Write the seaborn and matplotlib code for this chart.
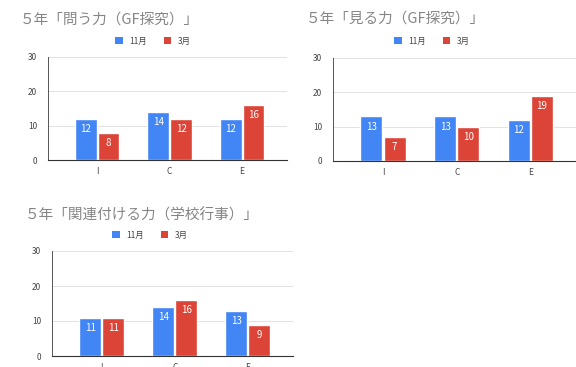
import matplotlib
matplotlib.use("Agg")
import matplotlib.pyplot as plt
import seaborn as sns
import pandas as pd
from matplotlib.patches import Patch

sns.set_theme(style="white")
plt.rcParams['font.family'] = ['Noto Sans CJK JP', 'DejaVu Sans']

categories = ["I", "C", "E"]
months = ["11月", "3月"]
colors = ["#4285F4", "#DB4437"]

titles = [
    "５年「問う力（GF探究）」",
    "５年「見る力（GF探究）」",
    "５年「関連付ける力（学校行事）」",
]
nov_values = [
    [12, 14, 12],
    [13, 13, 12],
    [11, 14, 13],
]
mar_values = [
    [8, 12, 16],
    [7, 10, 19],
    [11, 16, 9],
]
yticks = [0, 10, 20, 30]

W, H = 576, 367
fig = plt.figure(figsize=(W / 100, H / 100), dpi=100)

# axes boxes in pixels: left, right, top, bottom
boxes = [
    (48, 287, 57, 160),
    (333, 576, 58, 161),
    (52, 293, 251, 356),
]
title_pos = [(20, 20), (306, 19), (25, 215)]
legend_pos = [(153, 41), (432, 41), (150, 235)]


def to_ax_rect(l, r, t, b):
    return [l / W, 1 - b / H, (r - l) / W, (b - t) / H]


for i in range(3):
    df = pd.DataFrame({
        "category": categories * 2,
        "month": [months[0]] * 3 + [months[1]] * 3,
        "value": nov_values[i] + mar_values[i],
    })
    ax = fig.add_axes(to_ax_rect(*boxes[i]))
    sns.barplot(data=df, x="category", y="value", hue="month",
                palette=colors, width=0.63, gap=0.05, ax=ax,
                legend=False, saturation=1)
    ax.set_ylim(0, 30)
    ax.set_xlim(-0.68, 2.62)
    ax.set_yticks(yticks)
    ax.set_yticklabels([str(v) for v in yticks], fontsize=6, color="#444444")
    ax.set_xticklabels(categories, fontsize=6, color="#444444")
    ax.set_xlabel("")
    ax.set_ylabel("")
    ax.tick_params(axis="y", length=5, width=0.6, color="#555555", pad=3)
    ax.tick_params(axis="x", length=0, pad=5)
    ax.yaxis.grid(True, color="#dddddd", linewidth=0.6)
    ax.set_axisbelow(True)
    for s in ["top", "right"]:
        ax.spines[s].set_visible(False)
    ax.spines["left"].set_color("#555555")
    ax.spines["left"].set_linewidth(0.7)
    ax.spines["bottom"].set_color("#333333")
    ax.spines["bottom"].set_linewidth(0.8)
    for cont in ax.containers:
        ax.bar_label(cont, fmt="%d", label_type="edge", padding=-11,
                     color="white", fontsize=7)

    tx, ty = title_pos[i]
    fig.text(tx / W, 1 - ty / H, titles[i], fontsize=10.5, color="#858585",
             ha="left", va="center")
    lx, ly = legend_pos[i]
    handles = [Patch(facecolor=c, edgecolor="none") for c in colors]
    fig.legend(handles, months, loc="center", bbox_to_anchor=(lx / W, 1 - ly / H),
               ncol=2, frameon=False, fontsize=6, handlelength=0.9,
               handleheight=0.9, handletextpad=0.8, columnspacing=2.0,
               labelcolor="#444444")

fig.savefig("out.png", dpi=100)
